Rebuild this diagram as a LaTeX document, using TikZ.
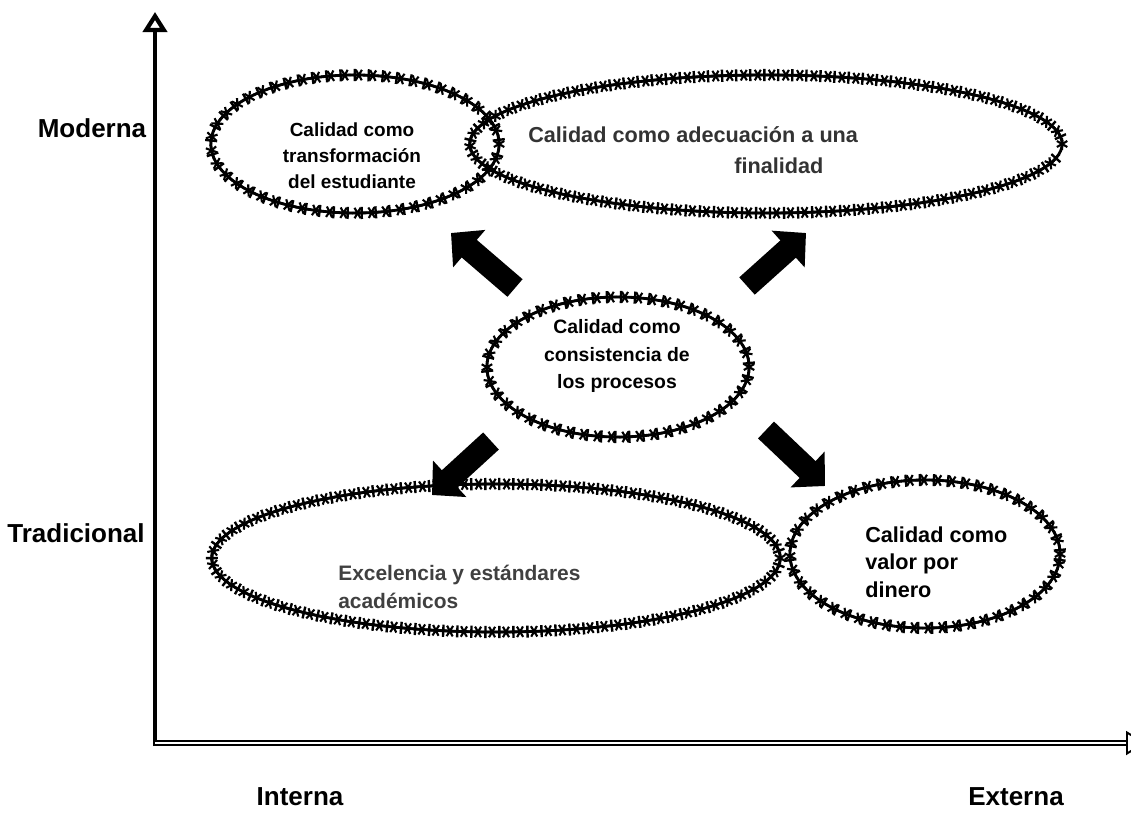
\documentclass[tikz,border=0pt]{standalone}
\usepackage{fontspec}
\setmainfont{Liberation Sans}
\usetikzlibrary{arrows.meta,positioning,shapes.geometric,decorations.markings}

\begin{document}
\begin{tikzpicture}[
    x=0.025cm, y=-0.025cm,
    elli/.style={ellipse, draw, line width=2pt, inner sep=0pt,
        postaction={decorate, decoration={markings,
            mark=between positions 0 and 0.99 step 10pt with {
                \draw[line width=1.5pt] (-4.3pt,0) -- (4.3pt,0)
                    (60:4.3pt) -- (240:4.3pt) (120:4.3pt) -- (300:4.3pt);}}},
        postaction={decorate, decoration={markings,
            mark=between positions 0.006 and 0.996 step 10pt with {
                \draw[line width=1.7pt] (-3.8pt,0) -- (3.8pt,0) (0,-4.3pt) -- (0,4.3pt);}}}},
    lbl/.style={align=center, inner sep=0pt, font=\bfseries\fontsize{13.5}{18.5}\selectfont},
    axlabel/.style={inner sep=0pt, font=\bfseries\fontsize{18.5}{20}\selectfont},
    bigarrow/.style={line width=0.58cm, -{Triangle[length=0.6cm, width=1.2cm]}}
]
\useasboundingbox (0,0) rectangle (1131,812);

% axes
\coordinate (org) at (155,743);
\coordinate (ytop) at (155,12);
\coordinate (xend) at (1146,743);
\draw[line width=3pt, -{Triangle[open, length=0.5cm, width=0.6cm]}] (155,746) -- (ytop);
\draw[line width=1.4pt, double, double distance=1.8pt,
      -{Triangle[open, length=0.5cm, width=0.6cm]}] (org) -- (xend);

\node[axlabel] (mod) at (92,128) {Moderna};
\node[axlabel] (trad) at (76,533) {Tradicional};
\node[axlabel] (int) at (300,797) {Interna};
\node[axlabel] (ext) at (1016,797) {Externa};

% ellipses
\node[elli, minimum width=7.2cm, minimum height=3.45cm] (trans) at (355,144) {};
\node[elli, minimum width=14.8cm, minimum height=3.45cm] (ade) at (766,144) {};
\node[elli, minimum width=6.55cm, minimum height=3.5cm] (cons) at (618,367) {};
\node[elli, minimum width=14.2cm, minimum height=3.7cm] (exc) at (496,558) {};
\node[elli, minimum width=6.75cm, minimum height=3.7cm] (val) at (925,554) {};

% texts
\node[lbl] (transt) at (352,156) {Calidad como\\transformación\\del estudiante};
\node[lbl, align=left, anchor=west, text=black!80, font=\bfseries\fontsize{15.4}{22}\selectfont] (adet) at (528,150)
    {Calidad como adecuación a una\\\hspace*{5.15cm}finalidad};
\node[lbl, font=\bfseries\fontsize{13.8}{19.5}\selectfont] (const) at (617,356)
    {Calidad como\\consistencia de\\los procesos};
\node[lbl, align=left, anchor=west, text=black!75, font=\bfseries\fontsize{14.9}{20}\selectfont] (exct) at (338,587)
    {Excelencia y estándares\\académicos};
\node[lbl, align=left, anchor=west, font=\bfseries\fontsize{15.4}{19.5}\selectfont] (valt) at (865,562)
    {Calidad como\\valor por\\dinero};

% arrows
\coordinate (a1s) at (515,288);
\coordinate (a1e) at (451,233);
\coordinate (a2s) at (747,286);
\coordinate (a2e) at (806,233);
\coordinate (a3s) at (491,441);
\coordinate (a3e) at (432,495);
\coordinate (a4s) at (766,430);
\coordinate (a4e) at (825,486);
\draw[bigarrow] (a1s) -- (a1e);
\draw[bigarrow] (a2s) -- (a2e);
\draw[bigarrow] (a3s) -- (a3e);
\draw[bigarrow] (a4s) -- (a4e);
\end{tikzpicture}
\end{document}
